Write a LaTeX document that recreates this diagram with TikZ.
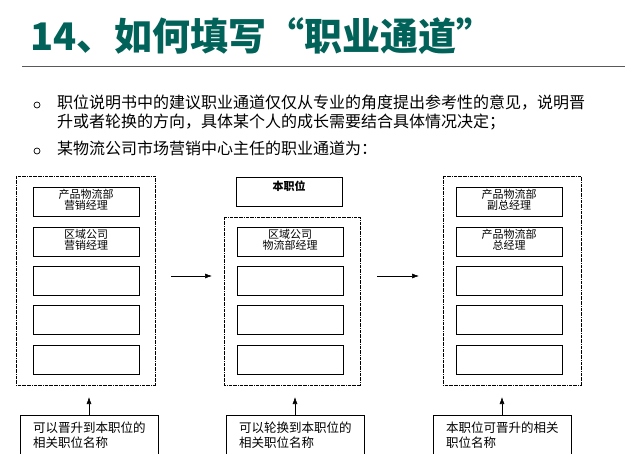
\documentclass[tikz,border=0pt]{standalone}
\usepackage{fontspec}
\setmainfont{Noto Sans CJK SC}
\usepackage{tikz}
\usetikzlibrary{arrows.meta,positioning}
\definecolor{titlegreen}{RGB}{0,98,88}
\tikzset{
  posbox/.style={draw, line width=0.6pt, minimum width=106pt, minimum height=29pt, inner sep=0pt},
  postext/.style={align=center, font=\fontsize{11}{10}\selectfont, anchor=north},
  groupbox/.style={draw, densely dashdotted, line width=0.5pt},
  notebox/.style={draw, line width=0.6pt, minimum width=138pt, minimum height=40pt, anchor=north west, align=left, inner sep=5pt, font=\fontsize{12.5}{15}\selectfont},
  flow/.style={-{Latex[length=7pt,width=5pt]}, line width=0.6pt}
}
\begin{document}
\begin{tikzpicture}[x=1pt,y=-1pt]
\useasboundingbox[fill=white] (0,0) rectangle (640,454);
% title
\node[anchor=base west, inner sep=0pt, text=titlegreen, font=\fontsize{38}{38}\selectfont\bfseries] (title) at (30,51) {14、如何填写“职业通道”};
\draw[gray!70!black, line width=0.8pt] (22,66) -- (625,66);
% bullets
\node[circle, draw, line width=0.7pt, minimum size=6pt, inner sep=0pt] (b1) at (37,105) {};
\node[circle, draw, line width=0.7pt, minimum size=6pt, inner sep=0pt] (b2) at (37,151) {};
\node[anchor=north west, inner sep=0pt, align=left, font=\fontsize{16}{19}\selectfont] (t1) at (57,95) {职位说明书中的建议职业通道仅仅从专业的角度提出参考性的意见，说明晋\\升或者轮换的方向，具体某个人的成长需要结合具体情况决定；};
\node[anchor=north west, inner sep=0pt, font=\fontsize{16}{19}\selectfont] (t2) at (57,141) {某物流公司市场营销中心主任的职业通道为：};
% dashed groups
\draw[groupbox] (16,176) rectangle (155,385);
\draw[groupbox] (224,217) rectangle (360,385);
\draw[groupbox] (443,176) rectangle (581,385);
% position boxes
\foreach \cx/\col in {86/L,509/R}
  \foreach \cy [count=\i] in {201.5,241.5,280.5,320,359.5}
    \node[posbox] (\col\i) at (\cx,\cy) {};
\foreach \cy [count=\i from 2] in {241.5,280.5,320,359.5}
  \node[posbox] (M\i) at (290,\cy) {};
\node[postext] at ([yshift=1pt]L1.north) {产品物流部\\营销经理};
\node[postext] at ([yshift=1pt]L2.north) {区域公司\\营销经理};
\node[postext] at ([yshift=1pt]M2.north) {区域公司\\物流部经理};
\node[postext] at ([yshift=1pt]R1.north) {产品物流部\\副总经理};
\node[postext] at ([yshift=1pt]R2.north) {产品物流部\\总经理};
\node[posbox, anchor=north] (self) at (289,177) {};
\node[anchor=north, font=\fontsize{11}{11}\selectfont\bfseries] at (self.north) {本职位};
% arrows between groups
\coordinate (a1) at (171,276); \coordinate (a2) at (212,276);
\coordinate (a3) at (377,276); \coordinate (a4) at (419,276);
\draw[flow] (a1) -- (a2);
\draw[flow] (a3) -- (a4);
% notes
\node[notebox] (n1) at (20,415) {可以晋升到本职位的\\相关职位名称};
\node[notebox] (n2) at (226,415) {可以轮换到本职位的\\相关职位名称};
\node[notebox] (n3) at (433,415) {本职位可晋升的相关\\职位名称};
\coordinate (u1) at (89,397); \coordinate (u2) at (295,397); \coordinate (u3) at (502,397);
\draw[flow] (n1.north -| u1) -- (u1);
\draw[flow] (n2.north -| u2) -- (u2);
\draw[flow] (n3.north -| u3) -- (u3);
\end{tikzpicture}
\end{document}
